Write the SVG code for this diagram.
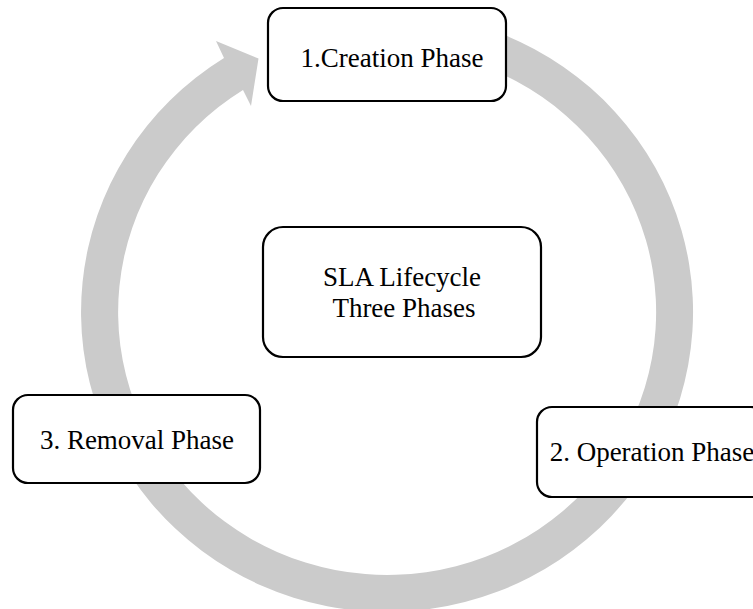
<svg xmlns="http://www.w3.org/2000/svg" width="753" height="609" viewBox="0 0 753 609">
<style>
.box{fill:#ffffff;stroke:#000000;stroke-width:2.2}
.lbl{font-family:"Liberation Serif","Times New Roman",serif;font-size:27px;fill:#000000;text-anchor:middle}
.ring{fill:#cbcbcb;stroke:none}
</style>
<rect width="753" height="609" fill="#ffffff"/>
<g id="connectors">
<path class="ring" d="M 470 23.2 A 306 300 0 1 1 224 58.1 L 216 41 L 258.5 58.5 L 251 106 L 243 89.9 A 269 263 0 1 0 460 58.8 Z"/>
</g>
<g id="node-creation">
<rect class="box" x="268" y="8" width="238" height="93" rx="15"/>
<text class="lbl" x="392" y="67">1.Creation Phase</text>
</g>
<g id="node-center">
<rect class="box" x="263" y="227" width="278" height="130" rx="20"/>
<text class="lbl" x="402" y="286">SLA Lifecycle</text>
<text class="lbl" x="404" y="317">Three Phases</text>
</g>
<g id="node-removal">
<rect class="box" x="13" y="395" width="247" height="88" rx="15"/>
<text class="lbl" x="137" y="449">3. Removal Phase</text>
</g>
<g id="node-operation">
<rect class="box" x="537" y="407" width="229" height="90" rx="15"/>
<text class="lbl" x="652" y="461">2. Operation Phase</text>
</g>
</svg>
